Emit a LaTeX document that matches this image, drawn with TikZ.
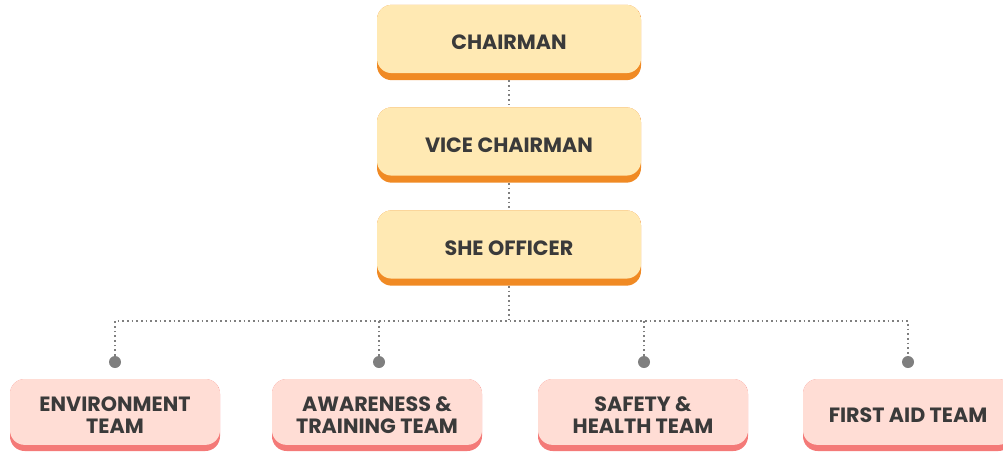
\documentclass[tikz,border=0pt]{standalone}
\usepackage{fontspec}
\setmainfont{Poppins}
\usepackage{tikz}
\usetikzlibrary{positioning}

\definecolor{cream}{HTML}{FFE9B3}
\definecolor{amber}{HTML}{F08A24}
\definecolor{blush}{HTML}{FFDDD5}
\definecolor{coral}{HTML}{F47A78}
\definecolor{ink}{HTML}{3A3A3A}
\definecolor{wire}{HTML}{7F7F7F}

\tikzset{
	postbox/.style={rounded corners=11pt, fill=amber, text=ink,
		font=\bfseries\fontsize{15.5}{16.5}\selectfont, align=center,
		minimum width=198pt, minimum height=56.5pt, inner sep=0pt,
		path picture={\fill[cream, rounded corners=11pt]
			(path picture bounding box.north west) rectangle
			([yshift=5.3pt]path picture bounding box.south east);}},
	teambox/.style={postbox, fill=coral, minimum width=157.5pt,
		minimum height=54pt,
		path picture={\fill[blush, rounded corners=11pt]
			(path picture bounding box.north west) rectangle
			([yshift=4.6pt]path picture bounding box.south east);}},
	link/.style={draw=wire, line width=1.2pt, dash pattern=on 1.2pt off 2.3pt},
	pin/.style={circle, fill=wire, inner sep=0pt, minimum size=9pt},
}

\begin{document}
\begin{tikzpicture}[x=0.75pt,y=-0.75pt]
	\useasboundingbox (0,0) rectangle (1003,451);
	% chain of posts
	\node[postbox] (chair) at (509,42.5) {CHAIRMAN};
	\node[postbox] (vice) at (509,145) {VICE CHAIRMAN};
	\node[postbox] (she) at (509,248) {SHE OFFICER};
	% teams
	\node[teambox] (env) at (115,415) {ENVIRONMENT\\TEAM};
	\node[teambox] (aware) at (377,415) {AWARENESS \&\\TRAINING TEAM};
	\node[teambox] (safe) at (643,415) {SAFETY \&\\HEALTH TEAM};
	\node[teambox] (aid) at (908,415) {FIRST AID TEAM};
	% pins above teams
	\node[pin] (p1) at (115,362) {};
	\node[pin] (p2) at (379,362) {};
	\node[pin] (p3) at (644,362) {};
	\node[pin] (p4) at (908,362) {};
	\coordinate (bus) at (509,321);
	% connectors
	\draw[link] (chair) -- (vice);
	\draw[link] (vice) -- (she);
	\draw[link] (she) -- (bus);
	\draw[link] (p1) |- (bus) -| (p4);
	\draw[link] (p2) -- (p2 |- bus);
	\draw[link] (p3) -- (p3 |- bus);
\end{tikzpicture}
\end{document}
